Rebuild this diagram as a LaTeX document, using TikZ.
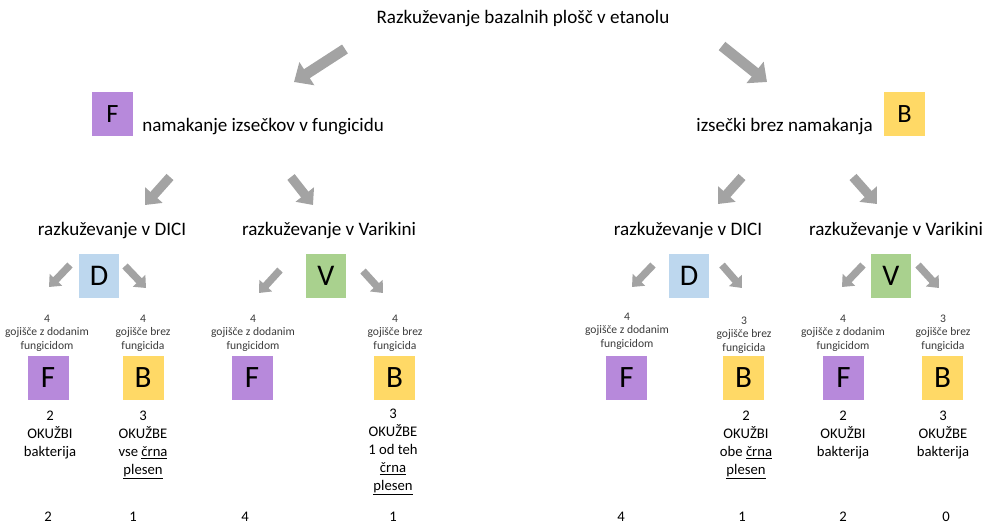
\documentclass[tikz,border=0pt]{standalone}
\usepackage{fontspec}
\setmainfont{Carlito}
\usetikzlibrary{arrows.meta}

\definecolor{fcol}{HTML}{B789DB}
\definecolor{bcol}{HTML}{FFD966}
\definecolor{dcol}{HTML}{BDD7EE}
\definecolor{vcol}{HTML}{A9D18E}
\definecolor{arrcol}{HTML}{A3A3A3}
\definecolor{smalltxt}{HTML}{3A3A3A}

% multi-line nodes are anchored at the baseline of their last line
\tikzset{
  big/.style={font={\fontsize{14.3pt}{17pt}\selectfont}, inner sep=0pt, anchor=base},
  res/.style={font={\fontsize{11pt}{13.5pt}\selectfont}, inner sep=0pt, anchor=base, align=center},
  small/.style={font={\fontsize{8.7pt}{10.1pt}\selectfont}, text=smalltxt, inner sep=0pt, anchor=base, align=center},
  sq/.style={minimum width=30.75pt, minimum height=33pt, inner sep=0pt},
  sqtop/.style={sq, font={\fontsize{19.8pt}{20pt}\selectfont}},
  sqmid/.style={sq, minimum width=30pt, font={\fontsize{22.5pt}{23pt}\selectfont}},
  sqlow/.style={sq, font={\fontsize{23.3pt}{24pt}\selectfont}},
  arrbig/.style={draw=arrcol, line width=8pt, -{Triangle[length=11.5pt 0 0, width=20pt 0 0]}},
  arrmid/.style={draw=arrcol, line width=7pt, -{Triangle[length=10pt 0 0, width=17pt 0 0]}},
  arrsmall/.style={draw=arrcol, line width=5.5pt, -{Triangle[length=7.5pt 0 0, width=12.5pt 0 0]}},
}

\begin{document}
\begin{tikzpicture}[x=0.75pt, y=-0.75pt]
\useasboundingbox (0,0) rectangle (990,526);

% title and first split
\node[big] (title) at (523,23) {Razkuževanje bazalnih plošč v etanolu};

\node[sqtop, fill=fcol] (Ftop) at (112.5,114) {F};
\node[big, anchor=base west] (soak) at (142,131) {namakanje izsečkov v fungicidu};
\node[sqtop, fill=bcol] (Btop) at (904.5,114) {B};
\node[big, anchor=base east] (nosoak) at (873,131) {izsečki brez namakanja};

\coordinate (a1s) at (345,49);  \coordinate (a1e) at (294,82);
\coordinate (a2s) at (722,46);  \coordinate (a2e) at (767,82);
\draw[arrbig] (a1s) -- (a1e);
\draw[arrbig] (a2s) -- (a2e);

% second split: disinfectants
\coordinate (b1s) at (170,177); \coordinate (b1e) at (145,205);
\coordinate (b2s) at (291,177); \coordinate (b2e) at (313,205);
\coordinate (b3s) at (742,177); \coordinate (b3e) at (718,204);
\coordinate (b4s) at (853,177); \coordinate (b4e) at (877,204);
\foreach \k in {1,...,4} \draw[arrmid] (b\k s) -- (b\k e);

\node[big] (dici1) at (112,235) {razkuževanje v DICI};
\node[big] (vari1) at (329,235) {razkuževanje v Varikini};
\node[big] (dici2) at (688,235) {razkuževanje v DICI};
\node[big] (vari2) at (896,235) {razkuževanje v Varikini};

\node[sqmid, fill=dcol] (D1) at (99,276) {D};
\node[sqmid, fill=vcol] (V1) at (326,276) {V};
\node[sqmid, fill=dcol] (D2) at (689,276) {D};
\node[sqmid, fill=vcol] (V2) at (891,276) {V};

% third split: growth media
\coordinate (c1s) at (70,265);  \coordinate (c1e) at (49,287);
\coordinate (c2s) at (125,266); \coordinate (c2e) at (146,288);
\coordinate (c3s) at (280,270); \coordinate (c3e) at (259,293);
\coordinate (c4s) at (363,271); \coordinate (c4e) at (383,293);
\coordinate (c5s) at (653,265); \coordinate (c5e) at (632,287);
\coordinate (c6s) at (722,265); \coordinate (c6e) at (742,288);
\coordinate (c7s) at (863,265); \coordinate (c7e) at (842,287);
\coordinate (c8s) at (918,265); \coordinate (c8e) at (939,288);
\foreach \k in {1,...,8} \draw[arrsmall] (c\k s) -- (c\k e);

% media labels
\node[small] (m1) at (47,349)  {4\\gojišče z dodanim\\fungicidom};
\node[small] (m2) at (143,349) {4\\gojišče brez\\fungicida};
\node[small] (m3) at (253,349) {4\\gojišče z dodanim\\fungicidom};
\node[small] (m4) at (395,349) {4\\gojišče brez\\fungicida};
\node[small] (m5) at (627,347) {4\\gojišče z dodanim\\fungicidom};
\node[small] (m6) at (744,351) {3\\gojišče brez\\fungicida};
\node[small] (m7) at (843,349) {4\\gojišče z dodanim\\fungicidom};
\node[small] (m8) at (943,349) {3\\gojišče brez\\fungicida};

% plates
\node[sqlow, fill=fcol] (P1) at (48,378)    {F};
\node[sqlow, fill=bcol] (P2) at (143,378)   {B};
\node[sqlow, fill=fcol] (P3) at (252,378)   {F};
\node[sqlow, fill=bcol] (P4) at (394.5,378) {B};
\node[sqlow, fill=fcol] (P5) at (626.5,378) {F};
\node[sqlow, fill=bcol] (P6) at (743.5,378) {B};
\node[sqlow, fill=fcol] (P7) at (843.5,378) {F};
\node[sqlow, fill=bcol] (P8) at (942.5,378) {B};

% infections
\node[res] (r1) at (50,456)  {2\\OKUŽBI\\bakterija};
\node[res] (r2) at (143,474) {3\\OKUŽBE\\vse \underline{črna}\\\underline{plesen}};
\node[res] (r4) at (393,490) {3\\OKUŽBE\\1 od teh\\\underline{črna}\\\underline{plesen}};
\node[res] (r6) at (746,474) {2\\OKUŽBI\\obe \underline{črna}\\\underline{plesen}};
\node[res] (r7) at (843,456) {2\\OKUŽBI\\bakterija};
\node[res] (r8) at (943,456) {3\\OKUŽBE\\bakterija};

% clean plates
\node[res] (n1) at (48,521)  {2};
\node[res] (n2) at (133,521) {1};
\node[res] (n3) at (245,521) {4};
\node[res] (n4) at (393,521) {1};
\node[res] (n5) at (621,521) {4};
\node[res] (n6) at (742,521) {1};
\node[res] (n7) at (843,521) {2};
\node[res] (n8) at (946,521) {0};
\end{tikzpicture}
\end{document}
